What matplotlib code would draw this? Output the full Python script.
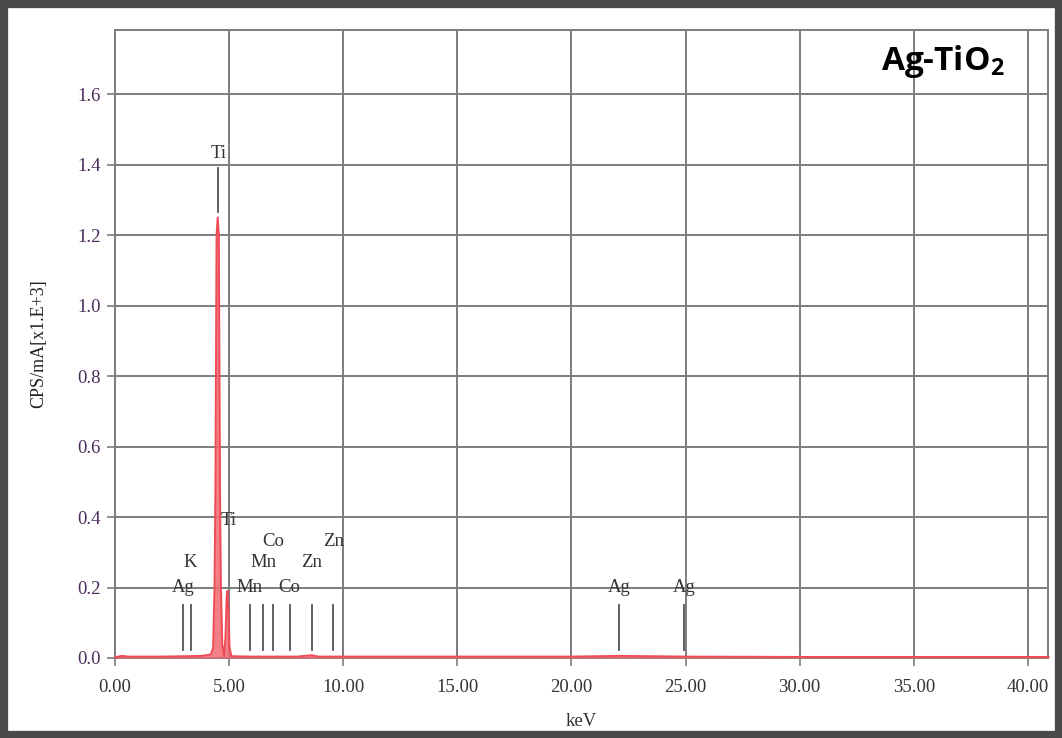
import matplotlib
matplotlib.use("Agg")
import matplotlib.pyplot as plt
from matplotlib.patches import Rectangle

# spectrum points (keV, CPS/mA x1E3)
energy = [0.0, 0.3, 0.6, 1.0, 2.0, 3.0, 3.8, 4.2, 4.30, 4.36, 4.40, 4.45, 4.50, 4.55, 4.60,
          4.64, 4.70, 4.78, 4.84, 4.89, 4.93, 4.97, 5.02, 5.10, 6.0, 8.0, 8.6, 8.9,
          10.0, 15.0, 20.0, 22.1, 25.0, 30.0, 35.0, 40.0, 40.9]
counts = [0.002, 0.006, 0.004, 0.004, 0.004, 0.005, 0.006, 0.010, 0.030, 0.20, 0.48, 1.20, 1.25,
          1.20, 0.48, 0.20, 0.04, 0.005, 0.06, 0.17, 0.19, 0.14, 0.03, 0.005, 0.004, 0.004,
          0.008, 0.004, 0.004, 0.004, 0.004, 0.006, 0.004, 0.003, 0.003, 0.003, 0.003]

# element marker lines: position, label, label height
marker_pos = [2.98, 3.31, 5.90, 6.49, 6.93, 7.65, 8.63, 9.57, 22.10, 24.94]
marker_lab = ["Ag", "K", "Mn", "Mn", "Co", "Co", "Zn", "Zn", "Ag", "Ag"]
marker_lab_y = [0.20, 0.27, 0.20, 0.27, 0.33, 0.20, 0.27, 0.33, 0.20, 0.20]
ti_pos = [4.51, 4.93]
ti_lab_y = [1.43, 0.39]

x_ticks = [0, 5, 10, 15, 20, 25, 30, 35, 40]
y_ticks = [0.0, 0.2, 0.4, 0.6, 0.8, 1.0, 1.2, 1.4, 1.6]

fig = plt.figure(figsize=(10.62, 7.38), dpi=100)
ax = fig.add_axes([115/1062, 1-658/738, 933/1062, 628/738])

grid_c = "#7d7d7d"
ax.set_xlim(0, 40.88)
ax.set_ylim(0, 1.7816)
ax.set_xticks(x_ticks)
ax.set_yticks(y_ticks)
ax.set_xticklabels([f"{v:.2f}" for v in x_ticks], family="Liberation Serif", fontsize=13.5, color="#333333")
ax.set_yticklabels([f"{v:.1f}" for v in y_ticks], family="Liberation Serif", fontsize=13.5, color="#4a2d5a")
ax.grid(True, color=grid_c, linewidth=1.4)
ax.set_axisbelow(True)
ax.tick_params(axis="both", direction="out", length=6, width=1.2, color=grid_c, pad=4)
ax.tick_params(axis="x", pad=9)
for s in ax.spines.values():
    s.set_color(grid_c)
    s.set_linewidth(1.4)

ax.fill_between(energy, 0, counts, color="#f36a72", alpha=0.85, zorder=3, linewidth=0)
ax.plot(energy, counts, color="#ee4b55", linewidth=1.4, zorder=4, clip_on=False)

for xp, lab, ly in zip(marker_pos, marker_lab, marker_lab_y):
    ax.plot([xp, xp], [0.022, 0.15], color="#555555", linewidth=1.3, zorder=5)
    ax.text(xp, ly, lab, family="Liberation Serif", fontsize=13.5, color="#333333",
            ha="center", va="center", zorder=6)

ax.plot([ti_pos[0], ti_pos[0]], [1.265, 1.39], color="#555555", linewidth=1.3, zorder=5)
for xp, ly in zip(ti_pos, ti_lab_y):
    ax.text(xp + 0.05, ly, "Ti", family="Liberation Serif", fontsize=13.5, color="#333333",
            ha="center", va="center", zorder=6)

ax.set_xlabel("keV", family="Liberation Serif", fontsize=13.5, color="#333333", labelpad=12)
ax.set_ylabel("CPS/mA[x1.E+3]", family="Liberation Serif", fontsize=13, color="#222222", labelpad=22)

ax.text(0.953, 0.95, "Ag-TiO$_\\mathregular{2}$", transform=ax.transAxes, ha="right", va="center",
        family="Open Sans", fontweight="bold", fontsize=24, color="black")

# outer dark frame
fig.patches.append(Rectangle((0, 0), 1, 1, transform=fig.transFigure, fill=False,
                             edgecolor="#4a4a4a", linewidth=11, zorder=10))

fig.savefig("out.png", dpi=100)
